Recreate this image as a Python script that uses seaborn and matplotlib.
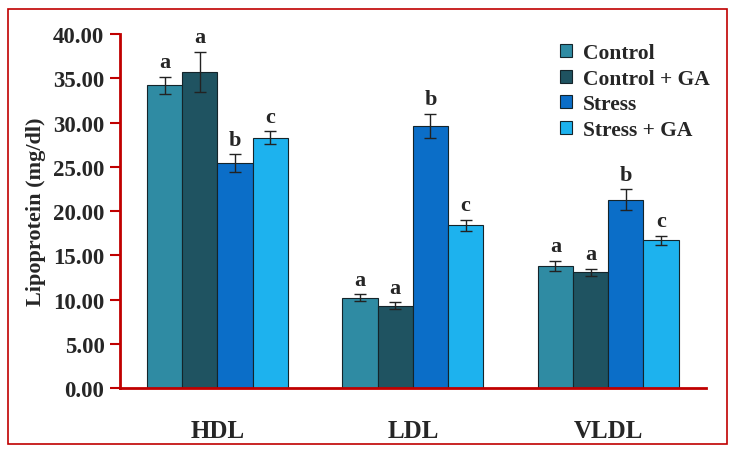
import pandas as pd
import seaborn as sns
import matplotlib.pyplot as plt
from matplotlib.patches import Rectangle

lipids = ["HDL", "LDL", "VLDL"]
groups = ["Control", "Control + GA", "Stress", "Stress + GA"]
means = {
    "Control":      [34.2, 10.2, 13.8],
    "Control + GA": [35.7, 9.3, 13.1],
    "Stress":       [25.4, 29.6, 21.3],
    "Stress + GA":  [28.3, 18.4, 16.7],
}
errors = {
    "Control":      [1.0, 0.4, 0.6],
    "Control + GA": [2.3, 0.4, 0.4],
    "Stress":       [1.0, 1.4, 1.2],
    "Stress + GA":  [0.7, 0.6, 0.5],
}
letters = {
    "Control":      ["a", "a", "a"],
    "Control + GA": ["a", "a", "a"],
    "Stress":       ["b", "b", "b"],
    "Stress + GA":  ["c", "c", "c"],
}
colors = ["#2f8ba3", "#1f5361", "#0b6ec8", "#1db2ee"]
RED = "#c00000"

rows = [{"lipid": l, "group": g, "value": means[g][i], "err": errors[g][i], "letter": letters[g][i]}
        for g in groups for i, l in enumerate(lipids)]
df = pd.DataFrame(rows)

sns.set_style("white")
plt.rcParams["font.family"] = ["Liberation Serif", "DejaVu Serif"]
plt.rcParams["font.weight"] = "bold"

fig = plt.figure(figsize=(7.3, 4.56), dpi=100)
ax = fig.add_axes([0.164, 0.147, 0.803, 0.776])
sns.barplot(data=df, x="lipid", y="value", hue="group", order=lipids, hue_order=groups,
            palette=colors, saturation=1, width=0.72, errorbar=None, edgecolor="#14242a",
            linewidth=0.8, legend=True, ax=ax)

# error bars and significance letters, placed on the drawn bars
for cont, g in zip(ax.containers, groups):
    for bar, lip in zip(cont, lipids):
        r = df[(df.group == g) & (df.lipid == lip)].iloc[0]
        xc = bar.get_x() + bar.get_width() / 2
        h = bar.get_height()
        ax.errorbar(xc, h, yerr=r.err, fmt="none", ecolor="#222222", elinewidth=1, capsize=4, capthick=1)
        ax.text(xc, h + r.err + 0.5, r.letter, ha="center", va="bottom", fontsize=16, fontweight="bold")

ax.set_ylim(0, 40)
ax.set_xlim(-0.5, 2.5)
ax.set_yticks(range(0, 41, 5))
ax.set_yticklabels([f"{v:.2f}" for v in range(0, 41, 5)], fontsize=16.5, fontweight="bold")
ax.set_xticks(range(len(lipids)))
ax.set_xticklabels(lipids, fontsize=18, fontweight="bold")
ax.set_xticks([-0.5, 0.5, 1.5, 2.5], minor=True)
ax.tick_params(axis="x", which="major", length=0, pad=22)
ax.tick_params(axis="x", which="minor", length=7, width=1.5, color=RED, direction="out")
ax.tick_params(axis="y", length=7, width=1.5, color=RED, direction="out", left=True, pad=4)
ax.set_xlabel("")
ax.set_ylabel("Lipoprotein (mg/dl)", fontsize=16, fontweight="bold", labelpad=5)
for side in ["top", "right"]:
    ax.spines[side].set_visible(False)
for side in ["left", "bottom"]:
    ax.spines[side].set_color(RED)
    ax.spines[side].set_linewidth(2)

leg = ax.legend(loc="upper left", bbox_to_anchor=(0.718, 1.03), frameon=False,
                prop={"size": 15.5, "weight": "bold"}, handlelength=0.55, handleheight=0.55,
                handletextpad=0.5, labelspacing=0.27)

fig.patches.append(Rectangle((0.011, 0.024), 0.985, 0.955, transform=fig.transFigure,
                             fill=False, edgecolor=RED, linewidth=1.2))

fig.savefig("out.png", dpi=100)
